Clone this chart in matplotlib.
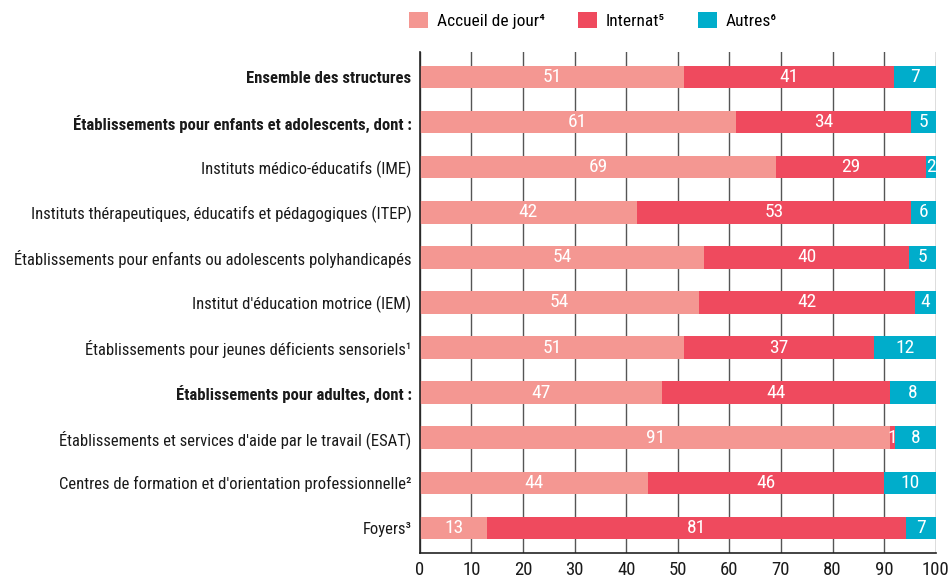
import matplotlib
matplotlib.use("Agg")
import matplotlib.pyplot as plt
from matplotlib.patches import Patch

plt.rcParams['font.family'] = ['Roboto Condensed', 'DejaVu Sans']

categories = [
    "Ensemble des structures",
    "Établissements pour enfants et adolescents, dont :",
    "Instituts médico-éducatifs (IME)",
    "Instituts thérapeutiques, éducatifs et pédagogiques (ITEP)",
    "Établissements pour enfants ou adolescents polyhandicapés",
    "Institut d'éducation motrice (IEM)",
    "Établissements pour jeunes déficients sensoriels¹",
    "Établissements pour adultes, dont :",
    "Établissements et services d'aide par le travail (ESAT)",
    "Centres de formation et d'orientation professionnelle²",
    "Foyers³",
]
bold_rows = [0, 1, 7]

# bar lengths (percent)
accueil = [51.2, 61.2, 69.1, 42.1, 55.0, 54.2, 51.2, 47.0, 91.2, 44.2, 13.1]
internat = [40.8, 34.0, 29.0, 53.1, 39.9, 41.8, 36.9, 44.2, 0.9, 45.8, 81.1]
autres = [8.0, 4.8, 1.9, 4.8, 5.1, 4.0, 11.9, 8.8, 7.9, 10.0, 5.8]

# printed labels
accueil_lbl = [51, 61, 69, 42, 54, 54, 51, 47, 91, 44, 13]
internat_lbl = [41, 34, 29, 53, 40, 42, 37, 44, 1, 46, 81]
autres_lbl = [7, 5, 2, 6, 5, 4, 12, 8, 8, 10, 7]

series = ["Accueil de jour⁴", "Internat⁵", "Autres⁶"]
colors = ["#F49792", "#EF4A5E", "#00ADCB"]

fig = plt.figure(figsize=(9.5, 5.8), dpi=100)
ax = fig.add_axes([0.442, 0.047, 0.543, 0.863])

y = list(range(len(categories)))
left = [0.0] * len(categories)
for vals, lbls, col in zip([accueil, internat, autres],
                           [accueil_lbl, internat_lbl, autres_lbl], colors):
    bars = ax.barh(y, vals, left=left, height=0.5, color=col, zorder=2)
    for b, lb in zip(bars, lbls):
        ax.text(b.get_x() + b.get_width() / 2, b.get_y() + b.get_height() / 2,
                str(lb), ha='center', va='center', color='white',
                fontsize=14, zorder=3)
    left = [l + v for l, v in zip(left, vals)]

ax.set_xlim(0, 100)
ax.set_ylim(10.55, -0.55)
ax.set_xticks(range(0, 101, 10))
ax.set_yticks(y)
ax.set_yticklabels(categories, fontsize=12, color='#1a1a1a')
for i, t in enumerate(ax.get_yticklabels()):
    if i in bold_rows:
        t.set_fontweight('bold')
ax.tick_params(axis='both', length=0, colors='#1a1a1a')
ax.tick_params(axis='x', labelsize=13.5, pad=6)
ax.tick_params(axis='y', labelsize=12, pad=6)
ax.grid(axis='x', color='#555555', linewidth=1, zorder=0)
ax.set_axisbelow(True)
for s in ['top', 'right']:
    ax.spines[s].set_visible(False)
for s in ['left', 'bottom']:
    ax.spines[s].set_color('#222222')
    ax.spines[s].set_linewidth(1.2)

handles = [Patch(facecolor=c) for c in colors]
fig.legend(handles, series, loc='center', bbox_to_anchor=(0.624, 0.965),
           ncol=3, frameon=False, fontsize=12.5, handlelength=1.1,
           handleheight=1.1, columnspacing=1.9, handletextpad=0.5)

fig.savefig("out.png", dpi=100)
